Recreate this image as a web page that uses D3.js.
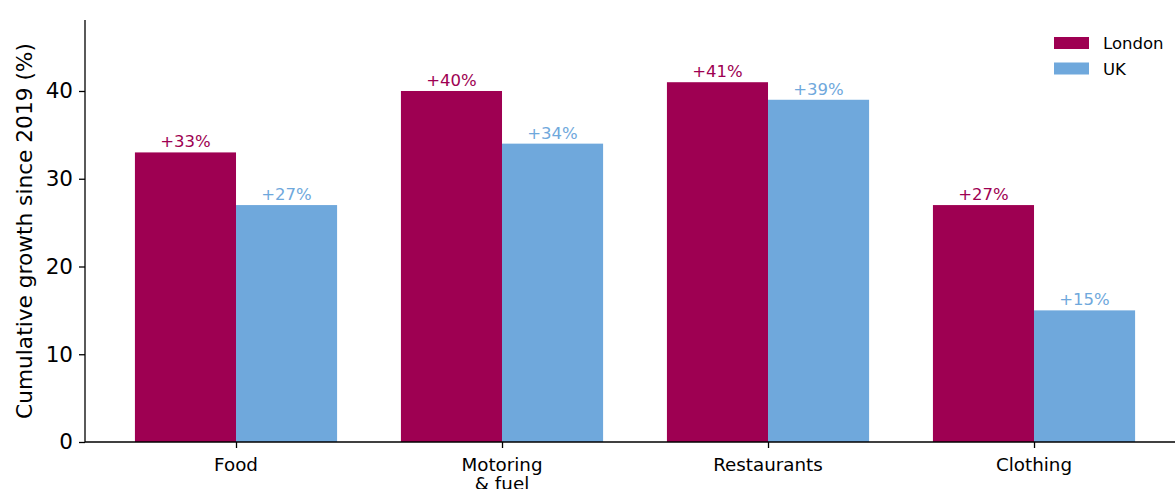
<!DOCTYPE html>
<html>
<head>
<meta charset="utf-8">
<script src="https://cdn.jsdelivr.net/npm/d3@7"></script>
<style>
  body { margin: 0; background: #fff; }
  text { font-family: "DejaVu Sans", sans-serif; }
</style>
</head>
<body>
<script>
// data
var categories = ["Food", "Motoring\n& fuel", "Restaurants", "Clothing"];
var london = [33, 40, 41, 27];
var uk = [27, 34, 39, 15];
var seriesNames = ["London", "UK"];
var colors = ["#9e0052", "#6fa8dc"];
var yTicks = [0, 10, 20, 30, 40];

var width = 1175, height = 489;

// scales (category index -> px)
var x = d3.scaleLinear().domain([-0.5677, 3.53]).range([85, 1175]);
var y = d3.scaleLinear().domain([0, 48.09]).range([442, 20]);
var barW = 0.38;

var svg = d3.select("body").append("svg")
    .attr("width", width)
    .attr("height", height);

var series = [london, uk];

series.forEach(function(vals, s) {
  svg.append("g").selectAll("rect")
      .data(vals)
    .enter().append("rect")
      .attr("x", function(d, i) { return x(s === 0 ? i - barW : i); })
      .attr("width", x(barW) - x(0))
      .attr("y", function(d) { return y(d); })
      .attr("height", function(d) { return y(0) - y(d); })
      .attr("fill", colors[s]);

  svg.append("g").selectAll("text")
      .data(vals)
    .enter().append("text")
      .attr("x", function(d, i) { return x(s === 0 ? i - barW / 2 : i + barW / 2); })
      .attr("y", function(d) { return y(d) - 5; })
      .attr("text-anchor", "middle")
      .attr("fill", colors[s])
      .style("font-size", "16.5px")
      .text(function(d) { return "+" + d + "%"; });
});

// y axis
var yAxis = svg.append("g")
    .attr("transform", "translate(85,0)")
    .call(d3.axisLeft(y).tickValues(yTicks).tickSize(6).tickPadding(6));
yAxis.select(".domain").attr("stroke", "#000").attr("stroke-width", 1.3).attr("d", "M0,20V442");
yAxis.selectAll(".tick line").attr("stroke-width", 1.3);
yAxis.selectAll(".tick text").style("font-size", "21.5px").attr("fill", "#000")
    .attr("font-family", "DejaVu Sans");

// x axis
var xAxis = svg.append("g")
    .attr("transform", "translate(0,442)")
    .call(d3.axisBottom(x).tickValues([0, 1, 2, 3]).tickSize(6).tickFormat(""));
xAxis.select(".domain").attr("stroke-width", 1.3).attr("d", "M85,0H1175");
xAxis.selectAll(".tick line").attr("stroke-width", 1.3);

categories.forEach(function(c, i) {
  var lines = c.split("\n");
  var t = svg.append("text")
      .attr("x", x(i))
      .attr("y", 471)
      .attr("text-anchor", "middle")
      .style("font-size", "18.3px")
      .attr("fill", "#000");
  lines.forEach(function(l, k) {
    t.append("tspan").attr("x", x(i)).attr("dy", k === 0 ? 0 : 19).text(l);
  });
});

// y label
svg.append("text")
    .attr("transform", "translate(32,231) rotate(-90)")
    .attr("text-anchor", "middle")
    .style("font-size", "21.7px")
    .text("Cumulative growth since 2019 (%)");

// legend
var legend = svg.append("g").attr("transform", "translate(1054,37)");
seriesNames.forEach(function(n, s) {
  legend.append("rect")
      .attr("x", 0).attr("y", s * 25.5)
      .attr("width", 35).attr("height", 12)
      .attr("fill", colors[s]);
  legend.append("text")
      .attr("x", 49).attr("y", s * 25.5 + 12)
      .style("font-size", "16.5px")
      .text(n);
});
</script>
</body>
</html>
